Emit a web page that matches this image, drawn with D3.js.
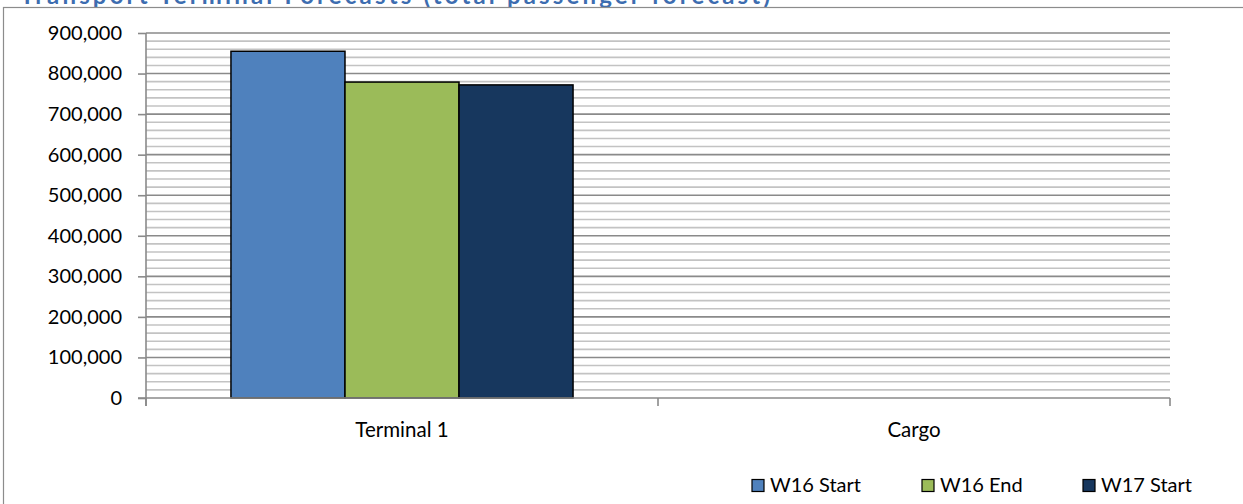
<!DOCTYPE html>
<html><head><meta charset="utf-8">
<script src="https://cdn.jsdelivr.net/npm/d3@7"></script>
<style>body{margin:0;background:#fff;overflow:hidden}svg{display:block}</style>
</head><body>
<svg id="c" width="1243" height="504"></svg>
<script>
const title = "Transport Terminal Forecasts (total passenger forecast)";
const categories = ["Terminal 1", "Cargo"];
const seriesNames = ["W16 Start", "W16 End", "W17 Start"];
const w16Start = [855000, 0];
const w16End = [779000, 0];
const w17Start = [772000, 0];
const yTicks = [0,100000,200000,300000,400000,500000,600000,700000,800000,900000];
const colors = ["#4F81BD", "#9BBB59", "#17375E"];

(function(){
const values = [w16Start, w16End, w17Start];
const svg = d3.select("#c");
const FONT = "Lato, 'Open Sans', sans-serif";

// title (clipped at top in the reference)
svg.append("text").attr("x",20).attr("y",4).attr("font-family",FONT).attr("font-weight","bold")
  .attr("font-size",24).attr("fill","#3D6DB0")
  .attr("textLength",750).attr("lengthAdjust","spacing").text(title);
// outer border
svg.append("rect").attr("x",3.5).attr("y",7.5).attr("width",1300).attr("height",600)
  .attr("fill","none").attr("stroke","#8c8c8c").attr("stroke-width",1.2);

const pL = 146, pR = 1170, pT = 33, pB = 398;
const y = d3.scaleLinear().domain([0, 900000]).range([pB, pT]);
const x0 = d3.scaleBand().domain(categories).range([pL, pR]).padding(0);
const x1 = d3.scaleBand().domain(seriesNames).range([0, x0.bandwidth()]).paddingInner(0).paddingOuter(0.745);

// minor gridlines
const minor = d3.range(0, 900001, 20000).filter(v => v % 100000 !== 0);
svg.append("g").selectAll("line").data(minor).join("line")
  .attr("x1", pL).attr("x2", pR).attr("y1", d => y(d)).attr("y2", d => y(d))
  .attr("stroke", "#c3c3c3").attr("stroke-width", 1.6);
// major gridlines
svg.append("g").selectAll("line").data(yTicks.filter(d=>d>0)).join("line")
  .attr("x1", pL).attr("x2", pR).attr("y1", d => y(d)).attr("y2", d => y(d))
  .attr("stroke", "#8a8a8a").attr("stroke-width", 1.6);

// y axis
const yAxis = d3.axisLeft(y).tickValues(yTicks).tickSize(8).tickPadding(16)
  .tickFormat(d3.format(","));
const ga = svg.append("g").attr("transform", `translate(${pL},0)`).call(yAxis);
ga.select(".domain").remove();
ga.selectAll(".tick line").attr("stroke","#8a8a8a").attr("stroke-width",1.6);
ga.selectAll(".tick text").attr("font-family",FONT).attr("font-size",20).attr("fill","#000");
svg.append("line").attr("x1",pL).attr("x2",pL).attr("y1",pT).attr("y2",pB+8)
  .attr("stroke","#8a8a8a").attr("stroke-width",1.6);

// bars
const gBars = svg.append("g");
categories.forEach((c, ci) => {
  seriesNames.forEach((s, si) => {
    const v = values[si][ci];
    if (v <= 0) return;
    gBars.append("rect")
      .attr("x", x0(c) + x1(s)).attr("width", x1.bandwidth())
      .attr("y", y(v)).attr("height", y(0) - y(v))
      .attr("fill", colors[si]).attr("stroke", "#000").attr("stroke-width", 1.5);
  });
});

// x axis
svg.append("line").attr("x1",pL-8).attr("x2",pR).attr("y1",pB).attr("y2",pB)
  .attr("stroke","#8a8a8a").attr("stroke-width",1.6);
const bounds = [pL, ...categories.map(c => x0(c) + x0.bandwidth())];
svg.append("g").selectAll("line").data(bounds).join("line")
  .attr("x1", d=>d).attr("x2", d=>d).attr("y1", pB).attr("y2", pB+8)
  .attr("stroke","#8a8a8a").attr("stroke-width",1.6);
svg.append("g").selectAll("text").data(categories).join("text")
  .attr("x", d => x0(d) + x0.bandwidth()/2).attr("y", 437)
  .attr("text-anchor","middle").attr("font-family",FONT).attr("font-size",20.5).attr("fill","#000")
  .text(d => d);

// legend
const legX = [752, 922, 1083];
const lg = svg.append("g");
seriesNames.forEach((s, i) => {
  lg.append("rect").attr("x", legX[i]).attr("y", 479.5).attr("width", 12).attr("height", 12)
    .attr("fill", colors[i]).attr("stroke", "#000").attr("stroke-width", 1.2);
  lg.append("text").attr("x", legX[i] + 18).attr("y", 492).attr("font-family",FONT)
    .attr("font-size",20).attr("fill","#000").text(s);
});
})();
</script>
</body></html>
